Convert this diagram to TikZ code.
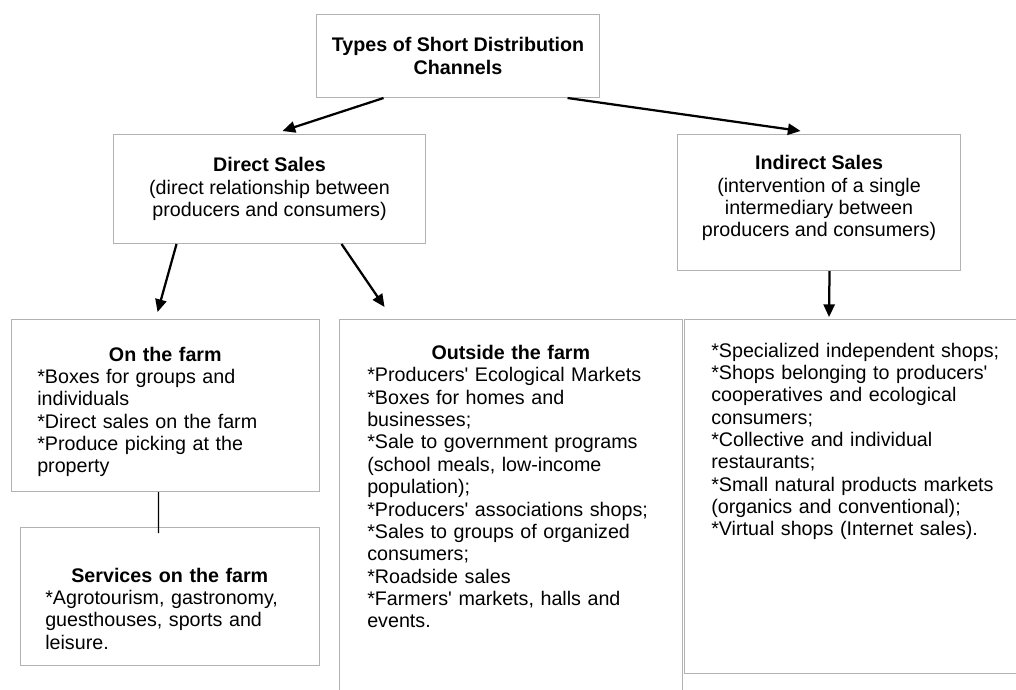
\documentclass[tikz,border=0pt]{standalone}
\usepackage{fontspec}
\setmainfont{Liberation Sans}
\usetikzlibrary{calc}
\usetikzlibrary{arrows.meta}
\tikzset{
    box/.style={draw=black!30, line width=0.7pt, inner sep=0pt, anchor=north west, align=center, font=\fontsize{14}{15.9}\selectfont},
    list/.style={inner sep=0pt, anchor=north west, align=left, font=\fontsize{14}{15.9}\selectfont},
    arrow/.style={line width=1.6pt, -{Triangle[length=9pt,width=8pt]}}
}
\newcommand{\boxtitle}[1]{\hfill\textbf{#1}\hfill\null}

\begin{document}
\begin{tikzpicture}[x=0.025cm,y=-0.025cm]
\clip (0,0) rectangle (1016,689);
% upper boxes
\node[box, minimum width=7.075cm, minimum height=2.075cm] (top) at (316,14) {\textbf{Types of Short Distribution}\\\textbf{Channels}};
\node[box, minimum width=7.8cm, minimum height=2.725cm] (direct) at (113,134) {\textbf{Direct Sales}\\(direct relationship between\\producers and consumers)};
\node[box, minimum width=7.075cm, minimum height=3.4cm, text depth=9pt] (indirect) at (677,134) {\textbf{Indirect Sales}\\(intervention of a single\\intermediary between\\producers and consumers)};
% lower boxes
\node[box, minimum width=7.7cm, minimum height=4.3cm] (farm) at (11,319) {};
\node[box, minimum width=7.475cm, minimum height=3.45cm] (services) at (20,527) {};
\node[box, minimum width=8.575cm, minimum height=9.525cm] (outside) at (339,319) {};
\node[box, minimum width=8.65cm, minimum height=8.85cm] (shops) at (684,319) {};
\node[list, text width=6.4cm] (farm-list) at ($(farm.north west)+(26,27.5)$) {\boxtitle{On the farm}\\{}*Boxes for groups and\\individuals\\{}*Direct sales on the farm\\{}*Produce picking at the\\property};
\node[list, text width=6.225cm] (services-list) at ($(services.north west)+(25,40.5)$) {\boxtitle{Services on the farm}\\{}*Agrotourism, gastronomy,\\guesthouses, sports and\\leisure.};
\node[list, text width=7.175cm] (outside-list) at ($(outside.north west)+(28,26)$) {\boxtitle{Outside the farm}\\{}*Producers\textquotesingle{} Ecological Markets\\{}*Boxes for homes and\\businesses;\\{}*Sale to government programs\\(school meals, low-income\\population);\\{}*Producers\textquotesingle{} associations shops;\\{}*Sales to groups of organized\\consumers;\\{}*Roadside sales\\{}*Farmers\textquotesingle{} markets, halls and\\events.};
\node[list, text width=8cm] (shops-list) at ($(shops.north west)+(27,23.5)$) {*Specialized independent shops;\\{}*Shops belonging to producers\textquotesingle\\cooperatives and ecological\\consumers;\\{}*Collective and individual\\restaurants;\\{}*Small natural products markets\\(organics and conventional);\\{}*Virtual shops (Internet sales).};
% connectors
\draw[arrow] ($(top.south)+(-74.5,0)$) -- ($(direct.north)+(13,-3)$);
\draw[arrow] ($(top.south)+(109.5,0)$) -- ($(indirect.north)+(-18.5,-3)$);
\draw[arrow] ($(direct.south)+(-93,0)$) -- ($(farm.north)+(-8,-7)$);
\draw[arrow] ($(direct.south)+(72,0)$) -- ($(outside.north)+(-126.5,-12)$);
\draw[arrow] ($(indirect.south)+(10.5,0)$) -- ($(shops.north west)+(145,-2)$);
\draw[line width=1pt] ($(farm.south)+(-7,0)$) -- ($(services.north)+(-11.5,6)$);
\end{tikzpicture}
\end{document}
